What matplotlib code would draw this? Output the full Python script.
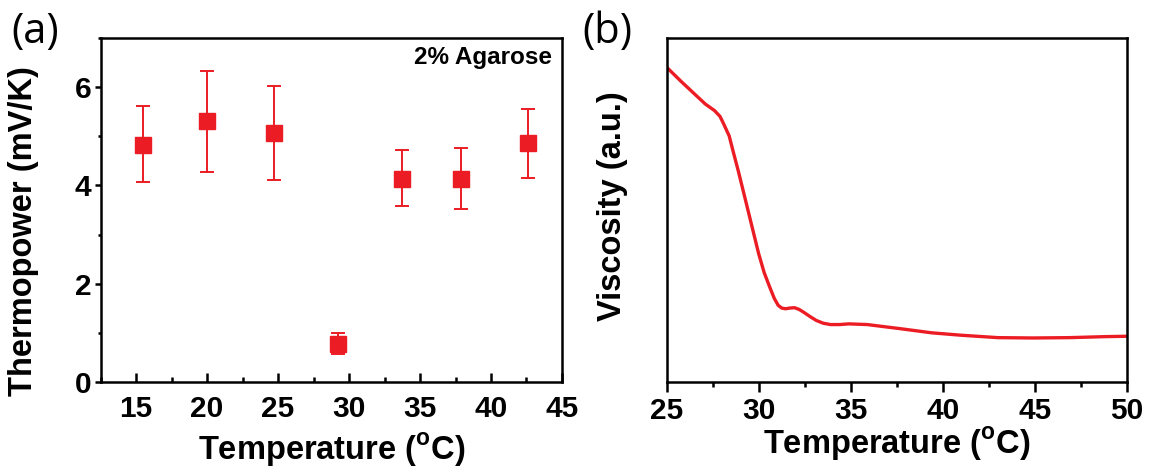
import numpy as np
import matplotlib
matplotlib.use('Agg')
import matplotlib.pyplot as plt
from matplotlib.ticker import MultipleLocator, NullLocator

plt.rcParams['font.family'] = ['Liberation Sans', 'DejaVu Sans']
plt.rcParams['font.weight'] = 'bold'
plt.rcParams['axes.labelweight'] = 'bold'
plt.rcParams['mathtext.fontset'] = 'custom'
plt.rcParams['mathtext.rm'] = 'Liberation Sans:bold'
plt.rcParams['mathtext.bf'] = 'Liberation Sans:bold'

RED = '#ec1c24'

# (a) thermopower vs temperature, 2% agarose
temp_a = [15.5, 20.0, 24.7, 29.2, 33.7, 37.9, 42.6]
thermopower = [4.82, 5.31, 5.06, 0.77, 4.14, 4.13, 4.86]
err_low = [0.76, 1.03, 0.94, 0.20, 0.56, 0.60, 0.70]
err_high = [0.79, 1.01, 0.96, 0.22, 0.58, 0.64, 0.69]

# (b) viscosity curve (arbitrary units)
temp_b = [25.0, 25.8, 26.6, 27.1, 27.6, 27.9, 28.1, 28.4, 28.6, 28.9, 29.2, 29.6,
          30.0, 30.3, 30.6, 30.85, 31.06, 31.25, 31.46, 31.7, 31.95, 32.2, 32.44,
          32.8, 33.13, 33.5, 33.9, 34.4, 34.9, 35.9, 37.7, 39.4, 41.0, 43.0, 44.9,
          46.9, 48.9, 50.0]
viscosity = [0.915, 0.873, 0.833, 0.808, 0.789, 0.772, 0.750, 0.715, 0.673, 0.612,
             0.547, 0.460, 0.373, 0.318, 0.276, 0.243, 0.223, 0.215, 0.213, 0.215,
             0.216, 0.211, 0.203, 0.190, 0.179, 0.171, 0.167, 0.167, 0.169, 0.167,
             0.155, 0.143, 0.136, 0.129, 0.128, 0.129, 0.132, 0.133]

xlabel = r'Temperature ($^{\mathrm{o}}$C)'

fig = plt.figure(figsize=(11.49, 4.70), dpi=100)
ax1 = fig.add_axes([0.0876, 0.1872, 0.4015, 0.732])
ax2 = fig.add_axes([0.5802, 0.1872, 0.4004, 0.732])

for ax in (ax1, ax2):
    for s in ax.spines.values():
        s.set_linewidth(1.8)

# panel a
ax1.errorbar(temp_a, thermopower, yerr=[err_low, err_high], fmt='s', color=RED,
             markersize=12, elinewidth=1.4, capsize=5, capthick=1.4)
ax1.set_xlim(12.5, 45)
ax1.set_ylim(0, 7)
ax1.xaxis.set_major_locator(MultipleLocator(5))
ax1.xaxis.set_minor_locator(MultipleLocator(2.5))
ax1.yaxis.set_major_locator(MultipleLocator(2))
ax1.yaxis.set_minor_locator(MultipleLocator(1))
ax1.tick_params(axis='x', which='both', direction='in', width=1.8)
ax1.tick_params(axis='x', which='major', length=6.5, pad=9)
ax1.tick_params(axis='x', which='minor', length=3.5)
ax1.tick_params(axis='y', which='both', direction='out', width=1.8)
ax1.tick_params(axis='y', which='major', length=4.5, pad=2)
ax1.tick_params(axis='y', which='minor', length=2.5)
ax1.tick_params(labelsize=21.5)
ax1.set_xlabel(xlabel, fontsize=23.5, labelpad=6)
ax1.set_ylabel('Thermopower (mV/K)', fontsize=23.5)
ax1.yaxis.set_label_coords(-0.134, 0.44)
ax1.text(0.978, 0.942, '2% Agarose', transform=ax1.transAxes, ha='right',
         va='center', fontsize=17.5)

# panel b
ax2.plot(temp_b, viscosity, color=RED, linewidth=2.4)
ax2.set_xlim(25, 50)
ax2.set_ylim(0, 1)
ax2.xaxis.set_major_locator(MultipleLocator(5))
ax2.xaxis.set_minor_locator(MultipleLocator(2.5))
ax2.yaxis.set_major_locator(NullLocator())
ax2.tick_params(axis='x', which='both', direction='out', width=1.8)
ax2.tick_params(axis='x', which='major', length=7, pad=4)
ax2.tick_params(axis='x', which='minor', length=3.5)
ax2.tick_params(labelsize=21.5)
ax2.set_xlabel(xlabel, fontsize=23.5, labelpad=0)
ax2.set_ylabel('Viscosity (a.u.)', fontsize=23.5)
ax2.yaxis.set_label_coords(-0.084, 0.51)

fig.text(0.010, 0.932, '(a)', fontsize=30, fontweight='normal',
         family=['Open Sans', 'DejaVu Sans'], va='center')
fig.text(0.507, 0.932, '(b)', fontsize=30, fontweight='normal',
         family=['Open Sans', 'DejaVu Sans'], va='center')

fig.savefig('out.png', dpi=100)
